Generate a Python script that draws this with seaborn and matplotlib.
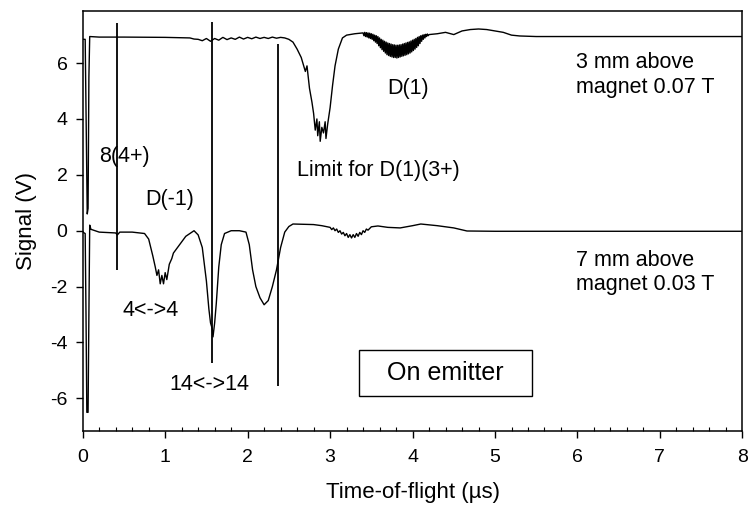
import matplotlib
matplotlib.use("Agg")
import matplotlib.pyplot as plt
from matplotlib.ticker import MultipleLocator
from matplotlib.patches import Rectangle
import seaborn as sns
import pandas as pd

# -------------------------
# Data
# -------------------------

# 3 mm above magnet, 0.07 T (upper trace)
t_upper = [
    0.00, 0.03, 0.045, 0.055, 0.065, 0.075, 0.085, 0.2, 0.5, 1.0,
    1.3, 1.35, 1.4, 1.45, 1.5, 1.55, 1.6, 1.65, 1.7, 1.75,
    1.8, 1.85, 1.9, 1.95, 2.0, 2.05, 2.1, 2.15, 2.2, 2.25,
    2.3, 2.35, 2.4, 2.45, 2.5, 2.55, 2.6, 2.65, 2.7, 2.72,
    2.75, 2.78, 2.8, 2.82, 2.84, 2.85, 2.87, 2.88, 2.9, 2.92,
    2.94, 2.95, 2.97, 3.0, 3.03, 3.06, 3.1, 3.15, 3.2, 3.3,
    3.40, 3.41, 3.42, 3.43, 3.44, 3.45, 3.46, 3.47, 3.48, 3.49,
    3.50, 3.51, 3.52, 3.53, 3.54, 3.55, 3.56, 3.57, 3.58, 3.59,
    3.60, 3.61, 3.62, 3.63, 3.64, 3.65, 3.66, 3.67, 3.68, 3.69,
    3.70, 3.71, 3.72, 3.73, 3.74, 3.75, 3.76, 3.77, 3.78, 3.79,
    3.80, 3.81, 3.82, 3.83, 3.84, 3.85, 3.86, 3.87, 3.88, 3.89,
    3.90, 3.91, 3.92, 3.93, 3.94, 3.95, 3.96, 3.97, 3.98, 3.99,
    4.00, 4.01, 4.02, 4.03, 4.04, 4.05, 4.06, 4.07, 4.08, 4.09,
    4.10, 4.11, 4.12, 4.13, 4.14, 4.15, 4.16, 4.17, 4.18, 4.19,
    4.20, 4.3, 4.4, 4.5, 4.6, 4.7, 4.8, 4.9, 5.0, 5.1,
    5.2, 5.3, 5.5, 6.0, 7.0, 8.0,
]
v_upper = [
    6.85, 6.85, 3.0, 0.6, 0.8, 5.5, 6.95, 6.93, 6.93, 6.92,
    6.90, 6.86, 6.85, 6.80, 6.88, 6.78, 6.88, 6.82, 6.92, 6.84,
    6.90, 6.85, 6.93, 6.86, 6.92, 6.87, 6.93, 6.88, 6.92, 6.88,
    6.93, 6.89, 6.92, 6.90, 6.85, 6.75, 6.50, 6.20, 5.70, 5.90,
    5.10, 4.60, 4.20, 3.60, 4.00, 3.40, 3.90, 3.20, 3.70, 3.50,
    3.90, 3.30, 3.80, 4.40, 5.20, 5.90, 6.50, 6.90, 7.00, 7.05,
    7.08, 6.98, 7.10, 6.95, 7.09, 6.93, 7.08, 6.90, 7.07, 6.88,
    7.05, 6.85, 7.03, 6.80, 7.00, 6.75, 6.98, 6.70, 6.95, 6.62,
    6.90, 6.55, 6.85, 6.48, 6.82, 6.42, 6.78, 6.36, 6.75, 6.30,
    6.72, 6.27, 6.70, 6.24, 6.68, 6.22, 6.66, 6.20, 6.65, 6.20,
    6.64, 6.18, 6.64, 6.20, 6.65, 6.22, 6.66, 6.24, 6.68, 6.26,
    6.70, 6.28, 6.72, 6.30, 6.74, 6.33, 6.76, 6.36, 6.79, 6.40,
    6.82, 6.45, 6.85, 6.50, 6.88, 6.56, 6.92, 6.62, 6.95, 6.70,
    6.98, 6.78, 7.00, 6.85, 7.02, 6.90, 7.03, 6.95, 7.04, 6.98,
    7.02, 7.05, 7.10, 7.02, 7.15, 7.20, 7.22, 7.20, 7.15, 7.10,
    7.00, 6.97, 6.95, 6.95, 6.95, 6.95,
]

# 7 mm above magnet, 0.03 T (lower trace)
t_lower = [
    0.00, 0.03, 0.04, 0.05, 0.065, 0.075, 0.085, 0.1, 0.2, 0.4,
    0.42, 0.45, 0.6, 0.75, 0.8, 0.85, 0.88, 0.9, 0.92, 0.94,
    0.96, 0.98, 1.0, 1.02, 1.05, 1.08, 1.1, 1.15, 1.2, 1.25,
    1.3, 1.35, 1.4, 1.45, 1.5, 1.53, 1.55, 1.57, 1.58, 1.6,
    1.62, 1.65, 1.68, 1.72, 1.8, 1.9, 1.98, 2.02, 2.06, 2.1,
    2.15, 2.2, 2.25, 2.3, 2.35, 2.4, 2.45, 2.5, 2.55, 2.8,
    2.9, 3.00, 3.02, 3.04, 3.06, 3.08, 3.10, 3.12, 3.14, 3.16,
    3.18, 3.20, 3.22, 3.24, 3.26, 3.28, 3.30, 3.32, 3.34, 3.36,
    3.38, 3.40, 3.42, 3.44, 3.46, 3.50, 3.58, 3.7, 3.85, 4.0,
    4.1, 4.3, 4.5, 4.66, 5.0, 6.0, 8.0,
]
v_lower = [
    -0.05, -0.10, -3.0, -6.5, -6.5, -3.0, 0.20, 0.05, -0.05, -0.08,
    -0.15, -0.05, -0.05, -0.10, -0.30, -0.90, -1.30, -1.60, -1.40, -1.90,
    -1.60, -1.90, -1.50, -1.75, -1.20, -1.00, -0.80, -0.60, -0.40, -0.20,
    -0.10, 0.00, -0.15, -0.60, -1.80, -2.80, -3.30, -3.50, -3.80, -3.30,
    -2.60, -1.30, -0.50, -0.10, 0.00, 0.00, -0.05, -0.50, -1.40, -2.00,
    -2.40, -2.65, -2.50, -2.00, -1.40, -0.60, -0.05, 0.15, 0.24, 0.22,
    0.18, 0.12, 0.04, 0.10, 0.00, 0.06, -0.06, 0.00, -0.12, -0.06,
    -0.18, -0.10, -0.24, -0.14, -0.26, -0.14, -0.24, -0.10, -0.20, -0.06,
    -0.14, 0.00, -0.06, 0.06, 0.02, 0.14, 0.17, 0.12, 0.10, 0.18,
    0.24, 0.18, 0.10, -0.01, -0.02, -0.02, -0.02,
]

# vertical marker lines: position, bottom, top
mark_x = [0.42, 1.57, 2.37]
mark_lo = [-1.4, -4.75, -5.55]
mark_hi = [7.45, 7.47, 6.67]

labels = ["8(4+)", "D(-1)", "4<->4", "14<->14", "Limit for D(1)(3+)", "D(1)",
          "3 mm above\nmagnet 0.07 T", "7 mm above\nmagnet 0.03 T"]
label_x = [0.51, 1.06, 0.82, 1.54, 2.6, 3.94, 5.98, 5.98]
label_y = [2.64, 1.1, -2.85, -5.5, 2.17, 5.1, 5.57, -1.5]
label_ha = ["center", "center", "center", "center", "left", "center", "left", "left"]

df = pd.concat([
    pd.DataFrame({"t": t_upper, "v": v_upper, "trace": "upper"}),
    pd.DataFrame({"t": t_lower, "v": v_lower, "trace": "lower"}),
])

# -------------------------
# Plot
# -------------------------

sns.set_theme(style="ticks")
plt.rcParams["font.family"] = ["Liberation Sans", "DejaVu Sans"]
plt.rcParams["text.color"] = "black"
plt.rcParams["axes.labelcolor"] = "black"
plt.rcParams["axes.unicode_minus"] = False

fig, ax = plt.subplots(figsize=(7.56, 5.05), dpi=100)
fig.subplots_adjust(left=0.1094, right=0.982, top=0.978, bottom=0.147)

sns.lineplot(data=df, x="t", y="v", units="trace", estimator=None,
             color="black", linewidth=1.0, sort=False, ax=ax, legend=False)

ax.vlines(mark_x, mark_lo, mark_hi, color="black", linewidth=1.3)

for s, x, y, ha in zip(labels, label_x, label_y, label_ha):
    ax.text(x, y, s, ha=ha, va="center", fontsize=15.5, linespacing=1.2,
            color="black")

# "On emitter" box
ax.add_patch(Rectangle((3.35, -5.91), 2.1, 1.64, facecolor="white",
                       edgecolor="black", linewidth=1.0, zorder=3))
ax.text(4.4, -5.08, "On emitter", ha="center", va="center", fontsize=18,
        color="black", zorder=4)

ax.set_xlim(0, 8)
ax.set_ylim(-7.16, 7.86)
ax.set_yticks([-6, -4, -2, 0, 2, 4, 6])
ax.xaxis.set_minor_locator(MultipleLocator(0.2))
ax.tick_params(axis="both", which="major", direction="out", length=5,
               width=1, labelsize=14, colors="black")
ax.tick_params(axis="x", which="major", pad=8)
ax.tick_params(axis="y", which="major", pad=6)
ax.tick_params(axis="x", which="minor", direction="in", length=3, width=0.8,
               colors="black")

ax.set_xlabel("Time-of-flight (µs)", fontsize=16, labelpad=12)
ax.set_ylabel("Signal (V)", fontsize=16, labelpad=9)
for sp in ax.spines.values():
    sp.set_color("black")
    sp.set_linewidth(1.1)

plt.savefig("out.png", dpi=100)
